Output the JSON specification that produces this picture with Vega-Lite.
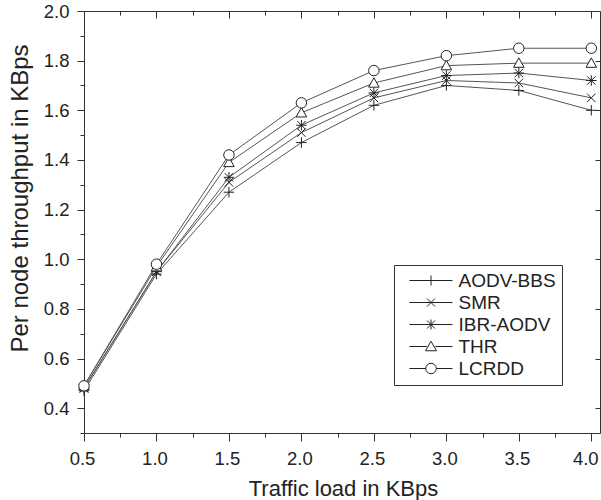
{
  "$schema": "https://vega.github.io/schema/vega-lite/v6.json",
  "width": 516,
  "height": 422,
  "autosize": {"type": "none"},
  "padding": {"left": 84, "top": 11, "right": 1, "bottom": 67},
  "background": "white",
  "config": {
    "view": {"stroke": null},
    "font": "Liberation Sans",
    "axis": {
      "grid": false,
      "domainColor": "#333",
      "domainWidth": 1,
      "tickColor": "#333",
      "tickWidth": 1,
      "labelColor": "#222",
      "titleColor": "#222",
      "labelFont": "Liberation Sans",
      "titleFont": "Liberation Sans",
      "labelFontSize": 18.5,
      "titleFontWeight": "normal",
      "labelFlush": false,
      "labelOverlap": false
    }
  },
  "data": {
    "values": [
      {"x": 0.5, "y": 0.47, "s": "AODV-BBS"},
      {"x": 1.0, "y": 0.94, "s": "AODV-BBS"},
      {"x": 1.5, "y": 1.27, "s": "AODV-BBS"},
      {"x": 2.0, "y": 1.47, "s": "AODV-BBS"},
      {"x": 2.5, "y": 1.62, "s": "AODV-BBS"},
      {"x": 3.0, "y": 1.70, "s": "AODV-BBS"},
      {"x": 3.5, "y": 1.68, "s": "AODV-BBS"},
      {"x": 4.0, "y": 1.60, "s": "AODV-BBS"},
      {"x": 0.5, "y": 0.48, "s": "SMR"},
      {"x": 1.0, "y": 0.95, "s": "SMR"},
      {"x": 1.5, "y": 1.31, "s": "SMR"},
      {"x": 2.0, "y": 1.51, "s": "SMR"},
      {"x": 2.5, "y": 1.65, "s": "SMR"},
      {"x": 3.0, "y": 1.72, "s": "SMR"},
      {"x": 3.5, "y": 1.71, "s": "SMR"},
      {"x": 4.0, "y": 1.65, "s": "SMR"},
      {"x": 0.5, "y": 0.48, "s": "IBR-AODV"},
      {"x": 1.0, "y": 0.95, "s": "IBR-AODV"},
      {"x": 1.5, "y": 1.33, "s": "IBR-AODV"},
      {"x": 2.0, "y": 1.54, "s": "IBR-AODV"},
      {"x": 2.5, "y": 1.67, "s": "IBR-AODV"},
      {"x": 3.0, "y": 1.74, "s": "IBR-AODV"},
      {"x": 3.5, "y": 1.75, "s": "IBR-AODV"},
      {"x": 4.0, "y": 1.72, "s": "IBR-AODV"},
      {"x": 0.5, "y": 0.49, "s": "THR"},
      {"x": 1.0, "y": 0.97, "s": "THR"},
      {"x": 1.5, "y": 1.39, "s": "THR"},
      {"x": 2.0, "y": 1.59, "s": "THR"},
      {"x": 2.5, "y": 1.71, "s": "THR"},
      {"x": 3.0, "y": 1.78, "s": "THR"},
      {"x": 3.5, "y": 1.79, "s": "THR"},
      {"x": 4.0, "y": 1.79, "s": "THR"},
      {"x": 0.5, "y": 0.49, "s": "LCRDD"},
      {"x": 1.0, "y": 0.98, "s": "LCRDD"},
      {"x": 1.5, "y": 1.42, "s": "LCRDD"},
      {"x": 2.0, "y": 1.63, "s": "LCRDD"},
      {"x": 2.5, "y": 1.76, "s": "LCRDD"},
      {"x": 3.0, "y": 1.82, "s": "LCRDD"},
      {"x": 3.5, "y": 1.85, "s": "LCRDD"},
      {"x": 4.0, "y": 1.85, "s": "LCRDD"}
    ]
  },
  "layer": [
    {
      "mark": {"type": "line", "stroke": "#555", "strokeWidth": 1},
      "encoding": {
        "x": {
          "field": "x", "type": "quantitative",
          "scale": {"domain": [0.5, 4.06], "nice": false, "zero": false},
          "axis": {
            "orient": "bottom",
            "title": "Traffic load in KBps",
            "titleFontSize": 22,
            "titleX": 259,
            "titleY": 62,
            "titleBaseline": "alphabetic",
            "values": [0.5, 0.75, 1.0, 1.25, 1.5, 1.75, 2.0, 2.25, 2.5, 2.75, 3.0, 3.25, 3.5, 3.75, 4.0],
            "labelExpr": "datum.value % 0.5 == 0 ? format(datum.value, '.1f') : ''",
            "labelOffset": {"condition": {"test": "datum.value == 4", "value": -6}, "value": -2},
            "tickSize": {"condition": {"test": "datum.value % 0.5 == 0", "value": 8}, "value": 4},
            "labelPadding": 8
          }
        },
        "y": {
          "field": "y", "type": "quantitative",
          "scale": {"domain": [0.3, 2.0], "nice": false, "zero": false},
          "axis": {
            "orient": "left",
            "title": "Per node throughput in KBps",
            "titleFontSize": 24,
            "titleX": -57,
            "titleY": 187,
            "titleAngle": -90,
            "titleBaseline": "alphabetic",
            "values": [0.3, 0.4, 0.5, 0.6, 0.7, 0.8, 0.9, 1.0, 1.1, 1.2, 1.3, 1.4, 1.5, 1.6, 1.7, 1.8, 1.9, 2.0],
            "labelExpr": "round(datum.value * 10) % 2 == 0 ? format(datum.value, '.1f') : ''",
            "tickSize": {"condition": {"test": "round(datum.value * 10) % 2 == 0", "value": 7}, "value": 4},
            "labelPadding": 8
          }
        },
        "detail": {"field": "s"}
      }
    },
    {
      "mark": {"type": "point", "fill": "white", "stroke": "#222", "strokeWidth": 1, "size": 110, "opacity": 1, "filled": false, "fillOpacity": 1},
      "encoding": {
        "x": {
          "field": "x", "type": "quantitative",
          "scale": {"domain": [0.5, 4.06], "nice": false, "zero": false},
          "axis": {
            "orient": "top",
            "title": null,
            "labels": false,
            "values": [0.5, 0.75, 1.0, 1.25, 1.5, 1.75, 2.0, 2.25, 2.5, 2.75, 3.0, 3.25, 3.5, 3.75, 4.0],
            "tickSize": {"condition": {"test": "datum.value % 0.5 == 0", "value": -7}, "value": -4}
          }
        },
        "y": {
          "field": "y", "type": "quantitative",
          "scale": {"domain": [0.3, 2.0], "nice": false, "zero": false},
          "axis": {
            "orient": "right",
            "title": null,
            "labels": false,
            "values": [0.4, 0.6, 0.8, 1.0, 1.2, 1.4, 1.6, 1.8, 2.0],
            "tickSize": -5
          }
        },
        "shape": {
          "field": "s", "type": "nominal", "legend": null,
          "scale": {
            "domain": ["AODV-BBS", "SMR", "IBR-AODV", "THR", "LCRDD"],
            "range": [
              "M-1,0H1M0,-1V1",
              "M-0.8,-0.8L0.8,0.8M-0.8,0.8L0.8,-0.8",
              "M-1,0H1M0,-1V1M-0.8,-0.8L0.8,0.8M-0.8,0.8L0.8,-0.8",
              "M0,-1L1,0.8H-1Z",
              "M1,0A1,1 0 1,1 -1,0A1,1 0 1,1 1,0Z"
            ]
          }
        }
      }
    },
    {
      "mark": {"type": "point", "opacity": 0, "size": 100},
      "encoding": {
        "x": {"field": "x", "type": "quantitative", "scale": {"domain": [0.5, 4.06], "nice": false, "zero": false}, "axis": null},
        "y": {"field": "y", "type": "quantitative", "scale": {"domain": [0.3, 2.0], "nice": false, "zero": false}, "axis": null},
        "shape": {
          "field": "s", "type": "nominal",
          "scale": {
            "domain": ["AODV-BBS", "SMR", "IBR-AODV", "THR", "LCRDD"],
            "range": [
              "M-4.3,0H4.3M0,-1V1",
              "M-4.3,0H4.3M-0.8,-0.8L0.8,0.8M-0.8,0.8L0.8,-0.8",
              "M-4.3,0H4.3M0,-1V1M-0.8,-0.8L0.8,0.8M-0.8,0.8L0.8,-0.8",
              "M-4.3,0H-0.85M0.85,0H4.3M0,-1.05L1.1,0.85H-1.1Z",
              "M-4.3,0H-1.05M1.05,0H4.3M1.05,0A1.05,1.05 0 1,1 -1.05,0A1.05,1.05 0 1,1 1.05,0Z"
            ]
          },
          "legend": {
            "title": null,
            "orient": "none",
            "legendX": 310,
            "legendY": 254,
            "direction": "vertical",
            "fillColor": "white",
            "strokeColor": "#333",
            "padding": 6,
            "symbolOffset": 21.5,
            "symbolSize": 100,
            "symbolOpacity": 1,
            "symbolFillColor": "white",
            "symbolStrokeColor": "#222",
            "symbolStrokeWidth": 1,
            "labelFont": "Liberation Sans",
            "labelFontSize": 19,
            "labelColor": "#222",
            "labelOffset": 18,
            "rowPadding": 2,
            "labelLimit": 200
          }
        }
      }
    }
  ],
  "resolve": {
    "axis": {"x": "independent", "y": "independent"},
    "scale": {"shape": "independent"}
  }
}
